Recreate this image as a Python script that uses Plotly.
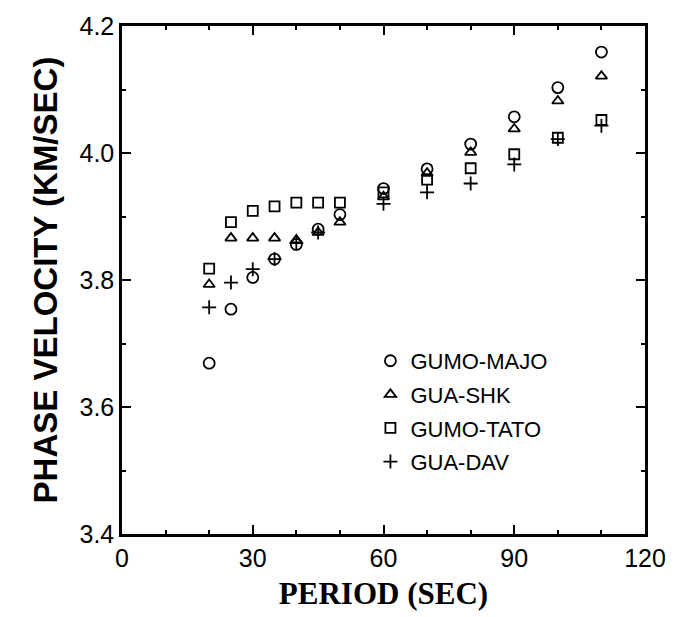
import plotly.graph_objects as go

periods = [20, 25, 30, 35, 40, 45, 50, 60, 70, 80, 90, 100, 110]
gumo_majo = [3.669, 3.754, 3.804, 3.833, 3.856, 3.880, 3.903, 3.944, 3.975, 4.014, 4.057, 4.103, 4.159]
gua_shk = [3.793, 3.866, 3.866, 3.866, 3.863, 3.875, 3.891, 3.931, 3.968, 4.001, 4.038, 4.082, 4.121]
gumo_tato = [3.818, 3.891, 3.909, 3.916, 3.922, 3.922, 3.922, 3.938, 3.958, 3.976, 3.998, 4.024, 4.052]
gua_dav = [3.757, 3.796, 3.817, 3.833, 3.858, 3.875, None, 3.920, 3.938, 3.952, 3.982, 4.022, 4.043]

series = [
    ("GUMO-MAJO", gumo_majo, "circle-open", 11),
    ("GUA-SHK", gua_shk, "triangle-up-open", 10),
    ("GUMO-TATO", gumo_tato, "square-open", 10),
    ("GUA-DAV", gua_dav, "cross-thin-open", 10),
]

fig = go.Figure()
for name, vals, sym, sz in series:
    fig.add_trace(go.Scatter(
        x=periods, y=vals, mode="markers", name=name, legendgroup=name,
        marker=dict(symbol=sym, size=sz, color="black", line=dict(color="black", width=1.8)),
    ))

axis_common = dict(
    showline=True, linecolor="black", linewidth=2.5, mirror="ticks",
    ticks="inside", ticklen=9, tickwidth=2, tickcolor="black",
    showgrid=False, zeroline=False,
    tickfont=dict(family="Liberation Sans, Arial, sans-serif", size=25, color="black"),
)

fig.update_xaxes(
    range=[0, 120], tick0=0, dtick=30,
    minor=dict(ticks="inside", ticklen=4, tickwidth=1.5, tickcolor="black", dtick=10),
    title=dict(text="<b>PERIOD (SEC)</b>", standoff=12,
               font=dict(family="Liberation Serif, Times New Roman, serif", size=31, color="black")),
    **axis_common,
)
fig.update_yaxes(
    range=[3.4, 4.2], tick0=3.4, dtick=0.2, tickformat=".1f",
    minor=dict(ticks="inside", ticklen=4, tickwidth=1.5, tickcolor="black", dtick=0.1),
    title=dict(text="<b>PHASE VELOCITY (KM/SEC)</b>", standoff=12,
               font=dict(family="Liberation Sans, Arial, sans-serif", size=33, color="black")),
    **axis_common,
)

fig.update_layout(
    width=678, height=617,
    margin=dict(l=122, r=25, t=16, b=74),
    paper_bgcolor="white", plot_bgcolor="white",
    showlegend=True,
    legend=dict(
        x=0.475, y=0.382, xanchor="left", yanchor="top",
        bgcolor="rgba(0,0,0,0)", borderwidth=0,
        font=dict(family="Liberation Sans, Arial, sans-serif", size=22, color="black"),
        tracegroupgap=2, itemwidth=30,
    ),
)

fig.write_html("out.html")
